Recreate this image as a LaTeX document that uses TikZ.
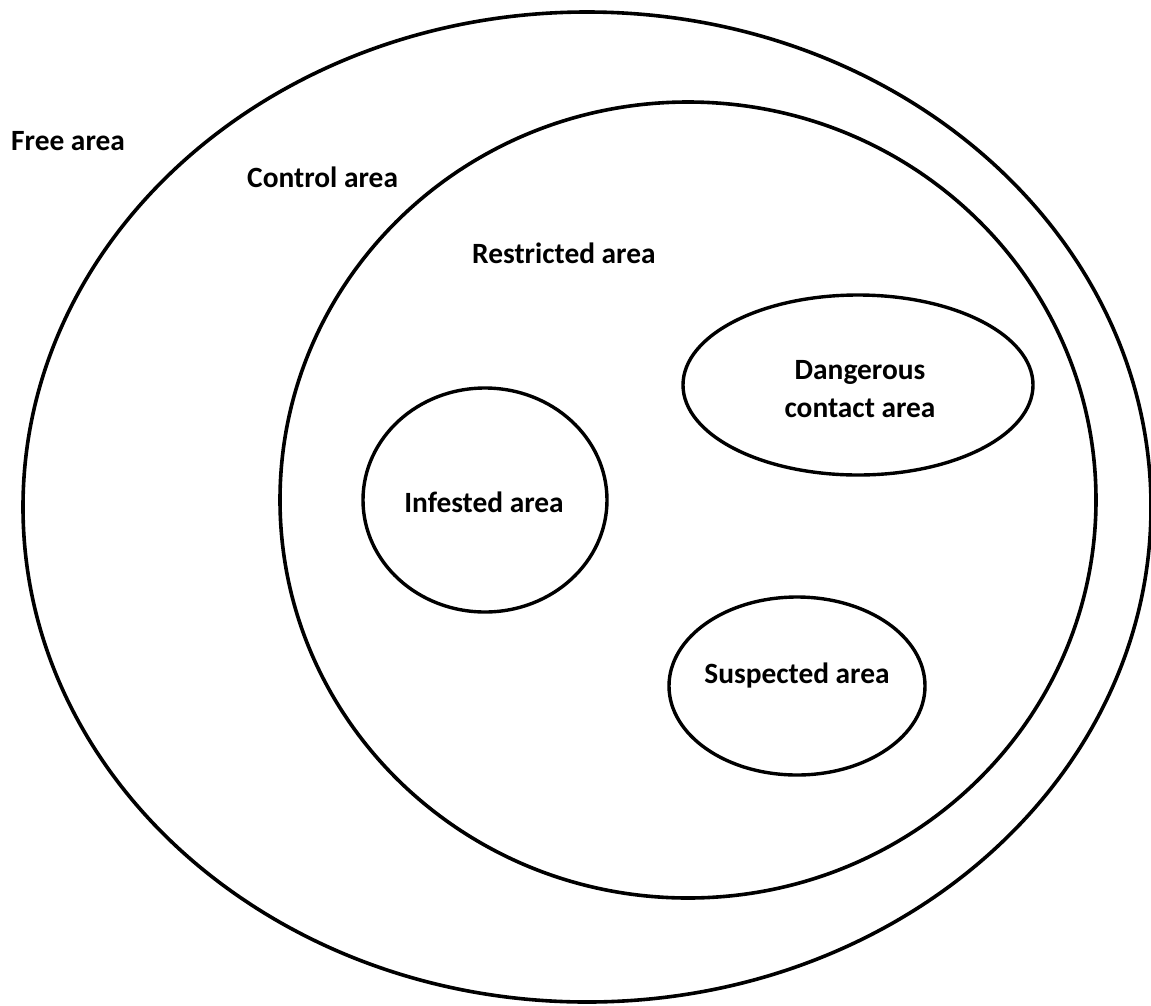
\documentclass[tikz,border=0pt]{standalone}
\usepackage{fontspec}
\setmainfont{Carlito}
\usetikzlibrary{shapes.geometric}
\begin{document}
\begin{tikzpicture}[x=1pt,y=-1pt,
  zone/.style={draw=black, line width=3.6pt, ellipse, inner sep=0pt, outer sep=0pt},
  lbl/.style={font=\fontsize{29.4}{38}\selectfont\bfseries, inner sep=0pt, align=center}]
\useasboundingbox (0,0) rectangle (1151,1005);
\node[zone, minimum width=1128pt, minimum height=990pt] (free) at (587,507) {};
\node[zone, minimum width=816pt, minimum height=796pt] (control) at (688,500) {};
\node[zone, line width=3.4pt, minimum width=244pt, minimum height=224pt] (infested) at (485,500) {};
\node[zone, line width=3.4pt, minimum width=350pt, minimum height=180pt] (danger) at (858,385) {};
\node[zone, line width=3.4pt, minimum width=256pt, minimum height=178pt] (suspect) at (797,686) {};
\node[lbl, anchor=west] (tfree) at (11,141) {Free area};
\node[lbl, anchor=west] (tcontrol) at (247,177) {Control area};
\node[lbl, anchor=west] (trestr) at (472,253) {Restricted area};
\node[lbl] (tinf) at (484,502) {Infested area};
\node[lbl] (tdang) at (860,389) {Dangerous\\contact area};
\node[lbl] (tsusp) at (797,675) {Suspected area};
\end{tikzpicture}
\end{document}
